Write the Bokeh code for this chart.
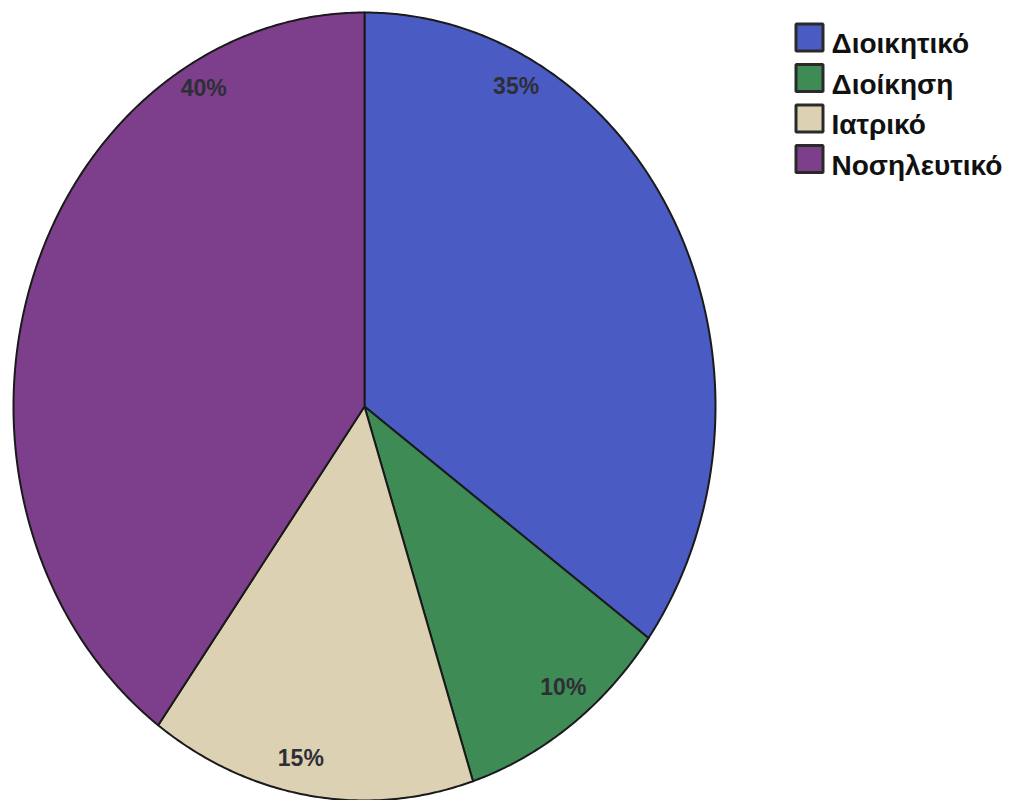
import math

from bokeh.core.properties import value
from bokeh.embed import file_html
from bokeh.models import Range1d
from bokeh.plotting import figure
from bokeh.resources import INLINE

# Staff distribution by sector
categories = ["Διοικητικό", "Διοίκηση", "Ιατρικό", "Νοσηλευτικό"]
shares = [35, 10, 15, 40]
colors = ["#4a5bc3", "#3f8b56", "#dcd2b3", "#7d3f8b"]

# Layout of the elliptical pie (canvas pixel units, y up)
W, H = 1018, 800
CX, CY = 364, 800 - 406
RX, RY = 351, 394
# Placement of each percentage label: direction (degrees clockwise from
# 12 o'clock) and relative distance from the centre
label_dir = [28, 141.5, 191.5, -29.5]
label_r = [0.92, 0.91, 0.91, 0.93]

p = figure(width=W, height=H, output_backend="svg", toolbar_location=None,
           x_range=Range1d(0, W), y_range=Range1d(0, H), min_border=0,
           background_fill_color="white", border_fill_color="white")
p.axis.visible = False
p.grid.visible = False
p.outline_line_color = None


def pt(theta_deg, r=1.0):
    t = math.radians(theta_deg)
    return CX + r * RX * math.sin(t), CY + r * RY * math.cos(t)


total = sum(shares)
xs, ys = [], []
lx, ly, ltxt = [], [], []
start = 0.0
for i, s in enumerate(shares):
    a0 = start / total * 360
    a1 = (start + s) / total * 360
    n = max(8, int((a1 - a0) * 2))
    px, py = [CX], [CY]
    for k in range(n + 1):
        x, y = pt(a0 + (a1 - a0) * k / n)
        px.append(x)
        py.append(y)
    xs.append(px)
    ys.append(py)
    x, y = pt(label_dir[i], label_r[i])
    lx.append(x)
    ly.append(y)
    ltxt.append(f"{s}%")
    start += s

p.patches(xs, ys, fill_color=colors, line_color="#1a1a1a", line_width=2,
          line_join="round")

p.text(lx, ly, text=ltxt, text_font=value("Liberation Sans"),
       text_font_size="23px", text_font_style="bold", text_color="#2e2e36",
       text_align="center", text_baseline="middle")

# Legend
leg_x, leg_y0, leg_dy = 809, 800 - 37, 40.5
sx = [leg_x] * len(categories)
sy = [leg_y0 - i * leg_dy for i in range(len(categories))]
p.rect(sx, sy, width=27, height=27, fill_color=colors, line_color="#2a2a2a",
       line_width=3)
p.text([leg_x + 22] * len(categories), [y - 6 for y in sy], text=categories,
       text_font=value("Liberation Sans"), text_font_size="28px",
       text_font_style="bold", text_color="#111111",
       text_align="left", text_baseline="middle")

open("out.html", "w").write(file_html(p, INLINE))
